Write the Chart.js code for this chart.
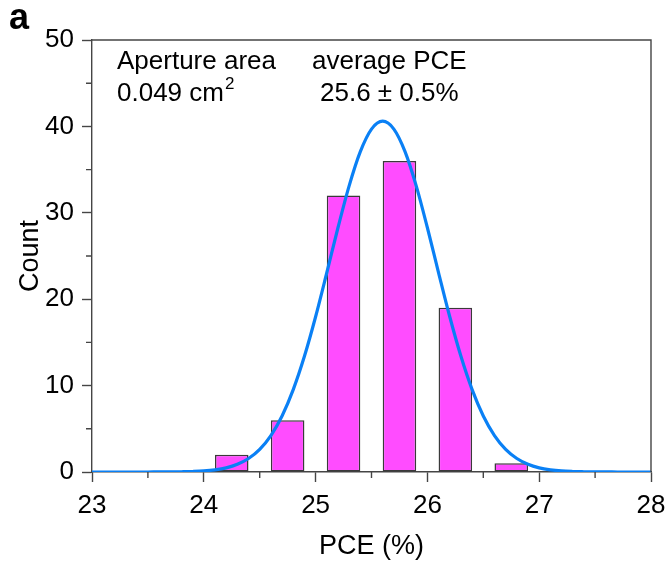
<!DOCTYPE html>
<html>
<head>
<meta charset="utf-8">
<script src="https://cdn.jsdelivr.net/npm/chart.js@4.4.1/dist/chart.umd.min.js"></script>
<style>
  html, body { margin: 0; padding: 0; background: #fff; }
  #wrap { width: 668px; height: 568px; position: relative; }
</style>
</head>
<body>
<div id="wrap"><canvas id="c"></canvas></div>
<script>
// Histogram bins (PCE %, bin centres) and counts
const binCenters = [24.25, 24.75, 25.25, 25.75, 26.25, 26.75];
const counts = [2, 6, 32, 36, 19, 1];

// Gaussian fit curve
const fitX = [23.0, 23.1, 23.2, 23.3, 23.4, 23.5, 23.6, 23.7, 23.8, 23.9,
              24.0, 24.1, 24.2, 24.3, 24.4, 24.5, 24.6, 24.7, 24.8, 24.9,
              25.0, 25.1, 25.2, 25.3, 25.4, 25.5, 25.6, 25.7, 25.8, 25.9,
              26.0, 26.1, 26.2, 26.3, 26.4, 26.5, 26.6, 26.7, 26.8, 26.9,
              27.0, 27.1, 27.2, 27.3, 27.4, 27.5, 27.6, 27.7, 27.8, 27.9, 28.0];
const fitY = [0, 0, 0, 0, 0, 0, 0.01, 0.01, 0.03, 0.06,
              0.12, 0.25, 0.48, 0.89, 1.56, 2.62, 4.22, 6.49, 9.54, 13.39,
              17.97, 23.06, 28.27, 33.12, 37.08, 39.69, 40.6, 39.69, 37.08, 33.12,
              28.27, 23.06, 17.97, 13.39, 9.54, 6.49, 4.22, 2.62, 1.56, 0.89,
              0.48, 0.25, 0.12, 0.06, 0.03, 0.01, 0.01, 0, 0, 0, 0];

// Axis ticks
const xMajorTicks = [23, 24, 25, 26, 27, 28];
const xMinorTicks = [23.5, 24.5, 25.5, 26.5, 27.5];
const yMajorTicks = [0, 10, 20, 30, 40, 50];
const yMinorTicks = [5, 15, 25, 35, 45];

// Texts
const panelLabel = 'a';
const xTitle = 'PCE (%)';
const yTitle = 'Count';
const noteLeft1 = 'Aperture area';
const noteLeft2 = '0.049 cm';
const noteLeftSup = '2';
const noteRight1 = 'average PCE';
const noteRight2 = '25.6 \u00b1 0.5%';

const FONT = '"Liberation Sans", Arial, Helvetica, sans-serif';
const AXIS_COLOR = '#454545';

const extrasPlugin = {
  id: 'extras',
  afterDraw(chart) {
    const ctx = chart.ctx;
    const xs = chart.scales.x, ys = chart.scales.y;
    const a = chart.chartArea;
    ctx.save();
    // frame top/right
    ctx.strokeStyle = AXIS_COLOR;
    ctx.lineWidth = 1.4;
    ctx.beginPath();
    ctx.moveTo(a.left, a.top);
    ctx.lineTo(a.right, a.top);
    ctx.lineTo(a.right, a.bottom);
    ctx.stroke();
    // minor ticks
    ctx.beginPath();
    xMinorTicks.forEach(v => {
      const px = xs.getPixelForValue(v);
      ctx.moveTo(px, a.bottom);
      ctx.lineTo(px, a.bottom + 6);
    });
    yMinorTicks.forEach(v => {
      const py = ys.getPixelForValue(v);
      ctx.moveTo(a.left, py);
      ctx.lineTo(a.left - 6, py);
    });
    ctx.stroke();
    // panel label
    ctx.fillStyle = '#000';
    ctx.textBaseline = 'alphabetic';
    ctx.textAlign = 'left';
    ctx.font = 'bold 36px ' + FONT;
    ctx.fillText(panelLabel, 9, 29);
    // notes
    ctx.font = '26px ' + FONT;
    ctx.fillText(noteLeft1, 117, 69);
    ctx.fillText(noteLeft2, 117, 101);
    const w = ctx.measureText(noteLeft2).width;
    ctx.fillText(noteRight1, 312, 69);
    ctx.fillText(noteRight2, 320, 101);
    ctx.font = '17px ' + FONT;
    ctx.fillText(noteLeftSup, 117 + w + 1, 89);
    ctx.restore();
  }
};

new Chart(document.getElementById('c'), {
  type: 'bar',
  data: {
    datasets: [
      {
        type: 'line',
        data: fitX.map((x, i) => ({ x: x, y: fitY[i] })),
        borderColor: '#0a80f5',
        borderWidth: 3.2,
        pointRadius: 0,
        tension: 0.4,
        cubicInterpolationMode: 'monotone',
        fill: false,
        order: 0
      },
      {
        type: 'bar',
        data: binCenters.map((x, i) => ({ x: x, y: counts[i] })),
        backgroundColor: '#ff4cff',
        borderColor: '#3a3a3a',
        borderWidth: 1.5,
        borderSkipped: false,
        barPercentage: 0.6,
        categoryPercentage: 1.0,
        order: 1
      }
    ]
  },
  options: {
    responsive: true,
    maintainAspectRatio: false,
    animation: false,
    layout: { padding: { top: 40, right: 17, left: 0, bottom: 0 } },
    plugins: { legend: { display: false }, tooltip: { enabled: false } },
    scales: {
      x: {
        type: 'linear',
        min: 23, max: 28,
        offset: false,
        afterBuildTicks: s => { s.ticks = xMajorTicks.map(v => ({ value: v })); },
        afterFit: s => { s.height = 96; s.paddingLeft = 0; s.paddingRight = 0; },
        grid: { display: true, drawOnChartArea: false, drawTicks: true, tickLength: 10, tickColor: AXIS_COLOR, tickWidth: 1.4, offset: false },
        border: { display: true, color: AXIS_COLOR, width: 1.4 },
        ticks: { color: '#000', font: { family: FONT, size: 26 }, padding: 8, maxRotation: 0, autoSkip: false },
        title: { display: true, text: xTitle, color: '#000', font: { family: FONT, size: 27 }, padding: { top: 0, bottom: 5 } }
      },
      y: {
        type: 'linear',
        min: 0, max: 50,
        afterBuildTicks: s => { s.ticks = yMajorTicks.map(v => ({ value: v })); },
        afterFit: s => { s.width = 92; s.paddingTop = 0; s.paddingBottom = 0; },
        grid: { display: true, drawOnChartArea: false, drawTicks: true, tickLength: 10, tickColor: AXIS_COLOR, tickWidth: 1.4 },
        border: { display: true, color: AXIS_COLOR, width: 1.4 },
        ticks: { color: '#000', font: { family: FONT, size: 26 }, padding: 8 },
        title: { display: true, text: yTitle, color: '#000', font: { family: FONT, size: 27 }, padding: { top: 14, bottom: 0 } }
      }
    }
  },
  plugins: [extrasPlugin]
});
</script>
</body>
</html>
